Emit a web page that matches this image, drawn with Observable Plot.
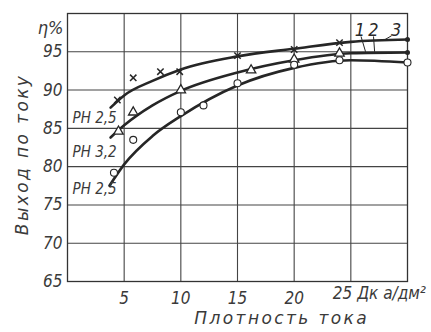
<!DOCTYPE html>
<html><head><meta charset="utf-8">
<script src="https://cdn.jsdelivr.net/npm/d3@7"></script>
<script src="https://cdn.jsdelivr.net/npm/@observablehq/plot@0.6"></script>
<style>
body{margin:0;background:#fff}
#chart svg{display:block;background:#fff}
</style>
</head><body><div id="chart"></div>
<script>
// axis ticks
const xTickValues = [5, 10, 15, 20];
const xLastTick = [{x: 25, text: "25 Дк а/дм²"}];
const yTickValues = [65, 70, 75, 80, 85, 90, 95];
const gridXValues = [5, 10, 15, 20, 25];
const gridYValues = [70, 75, 80, 85, 90, 95];

// smooth curves
const curveTopX = [3.8, 5, 7.5, 10, 15, 20, 25, 30];
const curveTopY = [87.7, 89.3, 91.2, 92.7, 94.4, 95.4, 96.3, 96.6];
const curveMidX = [3.8, 5, 7.5, 10, 15, 20, 25, 30];
const curveMidY = [83.8, 85.4, 88.0, 89.9, 92.3, 93.9, 94.8, 94.9];
const curveLowX = [3.7, 5, 7.5, 10, 15, 20, 25, 30];
const curveLowY = [77.5, 80.3, 84.0, 86.6, 90.6, 92.9, 93.9, 93.6];

// measured points
const crossX = [4.4, 5.8, 8.2, 9.9, 15, 20, 24];
const crossY = [88.7, 91.6, 92.4, 92.4, 94.5, 95.3, 96.2];
const triX = [4.5, 5.8, 10, 16.2, 20, 24];
const triY = [84.6, 87.1, 90.0, 92.6, 94.0, 94.8];
const circX = [4.1, 5.8, 10, 12, 15, 20, 24, 30];
const circY = [79.2, 83.5, 87.1, 88.0, 90.9, 93.3, 93.9, 93.6];
const endX = [30, 30];
const endY = [96.6, 94.9];

// labels
const boxLabels = ["PH 2,5", "PH 3,2", "PH 2,5"];
const boxLabelY = [86.3, 81.9, 77.0];
const curveLabels = ["1", "2", "3"];
const curveLabelX = [25.8, 27.0, 29.0];
const curveLabelY = [97.8, 97.8, 97.8];
const leaderX1 = [25.9, 27.0, 28.6];
const leaderY1 = [97.0, 97.0, 97.1];
const leaderX2 = [26.3, 27.1, 27.9];
const leaderY2 = [95.0, 95.0, 96.5];

const yTitle = "Выход по току";
const xTitle = "Плотность тока";
const unitTitle = "η%";

const zip = (xs, ys) => xs.map((x, i) => ({x, y: ys[i]}));
const ink = "#262626";
const txt = "#3a3a3a";
const font = "'DejaVu Sans Condensed', 'DejaVu Sans', sans-serif";

const chart = Plot.plot({
  width: 431,
  height: 332,
  marginLeft: 67,
  marginRight: 24,
  marginTop: 13,
  marginBottom: 51,
  style: {fontFamily: font, fontStyle: "italic", color: txt, background: "#fff"},
  x: {domain: [0, 30], ticks: xTickValues, tickSize: 0, tickPadding: 10, label: null},
  y: {domain: [65, 100], ticks: yTickValues, tickSize: 0, tickPadding: 5, label: null},
  marks: [
    Plot.ruleX(gridXValues, {stroke: "#444", strokeWidth: 1.1}),
    Plot.ruleY(gridYValues, {stroke: "#444", strokeWidth: 1.1}),
    Plot.frame({stroke: "#333", strokeWidth: 1.3}),
    Plot.axisX({ticks: xTickValues, tickSize: 0, tickPadding: 10, fontSize: 17, fill: txt}),
    Plot.axisY({ticks: yTickValues, tickSize: 0, tickPadding: 5, fontSize: 17, fill: txt}),
    Plot.text(xLastTick, {x: "x", text: "text", frameAnchor: "bottom", dy: 17, dx: -18, textAnchor: "start", fontSize: 17, fill: txt}),
    Plot.line(zip(curveTopX, curveTopY), {x: "x", y: "y", curve: "monotone-x", stroke: ink, strokeWidth: 2.6}),
    Plot.line(zip(curveMidX, curveMidY), {x: "x", y: "y", curve: "monotone-x", stroke: ink, strokeWidth: 2.6}),
    Plot.line(zip(curveLowX, curveLowY), {x: "x", y: "y", curve: "monotone-x", stroke: ink, strokeWidth: 2.6}),
    Plot.dot(zip(crossX, crossY), {x: "x", y: "y", symbol: "times", r: 3, stroke: ink, strokeWidth: 1.5}),
    Plot.dot(zip(triX, triY), {x: "x", y: "y", symbol: "triangle", r: 3.5, stroke: ink, fill: "#fff", strokeWidth: 1.3}),
    Plot.dot(zip(circX, circY), {x: "x", y: "y", symbol: "circle", r: 3.5, stroke: ink, fill: "#fff", strokeWidth: 1.1}),
    Plot.dot(zip(endX, endY), {x: "x", y: "y", r: 2.5, fill: ink}),
    Plot.text(boxLabels, {x: 0.45, y: (d, i) => boxLabelY[i], text: d => d, textAnchor: "start", fontSize: 15, fill: txt}),
    Plot.link(curveLabels, {x1: (d, i) => leaderX1[i], y1: (d, i) => leaderY1[i], x2: (d, i) => leaderX2[i], y2: (d, i) => leaderY2[i], stroke: ink, strokeWidth: 1}),
    Plot.text(curveLabels, {x: (d, i) => curveLabelX[i], y: (d, i) => curveLabelY[i], text: d => d, fontSize: 18, fill: "#2a2a2a"}),
    Plot.text([unitTitle], {frameAnchor: "top-left", dx: -4, dy: 8, textAnchor: "end", fontSize: 18, fill: txt}),
    Plot.text([yTitle], {frameAnchor: "left", y: 81.6, dx: -45, rotate: -90, textAnchor: "middle", fontSize: 17, fontFamily: "'DejaVu Sans', sans-serif", fill: txt}),
    Plot.text([xTitle], {frameAnchor: "bottom", x: 18.9, dy: 42, textAnchor: "middle", fontSize: 17, fontFamily: "'DejaVu Sans', sans-serif", fill: txt})
  ]
});
d3.select(chart).selectAll("text")
  .filter(function() { return this.textContent === xTitle || this.textContent === yTitle; })
  .attr("letter-spacing", 2.4);
document.getElementById("chart").append(chart);
</script>
</body></html>
